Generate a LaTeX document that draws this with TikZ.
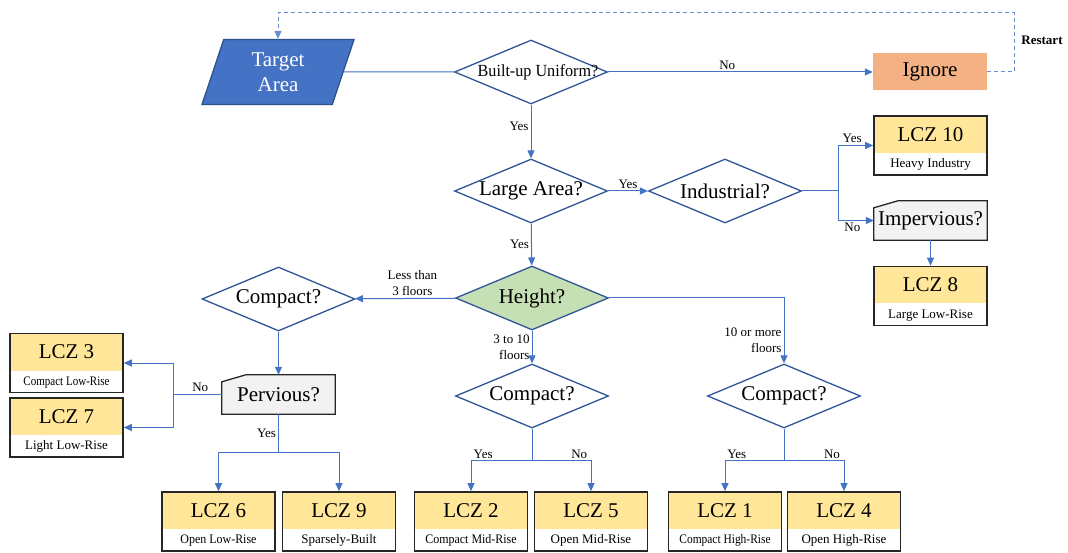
\documentclass[tikz,border=0pt]{standalone}
\usepackage{fontspec}
\setmainfont{Liberation Serif}
\usepackage{graphicx}
\usetikzlibrary{
  arrows.meta,
  shapes.geometric,
  backgrounds
}
\definecolor{flowblue}{HTML}{4472C4}
\definecolor{edgeblue}{HTML}{2F5597}
\definecolor{targetedge}{HTML}{2F528F}
\definecolor{ignorefill}{HTML}{F4B183}
\definecolor{heightgreen}{HTML}{C5E0B4}
\definecolor{lczyellow}{HTML}{FFE699}
\definecolor{snipgray}{HTML}{F2F2F2}
\definecolor{lczframe}{HTML}{262626}
\tikzset{
  bigtext/.style={font=\fontsize{21}{25}\selectfont},
  decision/.style={
    diamond,
    draw=edgeblue,
    line width=1.3pt,
    fill=white,
    aspect=2.4,
    inner sep=0pt,
    minimum width=153pt,
    minimum height=64pt,
    bigtext
  },
  inputbox/.style={
    trapezium,
    trapezium left angle=64.5,
    trapezium right angle=115.5,
    trapezium stretches body,
    fill=flowblue,
    draw=targetedge,
    line width=1.3pt,
    text=white,
    align=center,
    minimum width=152pt,
    minimum height=65pt,
    bigtext
  },
  ignorebox/.style={
    fill=ignorefill,
    minimum width=114pt,
    minimum height=37pt,
    bigtext
  },
  snipbox/.style={
    inner sep=0pt,
    minimum width=113pt,
    minimum height=39pt,
    bigtext
  },
  snipframe/.style={fill=snipgray, draw=lczframe, line width=1.3pt},
  lczbox/.style={
    draw=lczframe,
    line width=1.6pt,
    fill=white,
    inner sep=0pt,
    minimum width=113pt,
    minimum height=59pt,
    path picture={
      \fill[lczyellow] (path picture bounding box.north west)
        rectangle ([yshift=-37pt]path picture bounding box.north east);
    }
  },
  lcznum/.style={inner sep=0pt, text height=15pt, text depth=0pt, bigtext},
  lcztype/.style={inner sep=0pt, text height=9pt, text depth=3pt,
    font=\fontsize{13}{15}\selectfont},
  answer/.style={inner sep=2pt, font=\fontsize{13}{16}\selectfont},
  flow/.style={draw=flowblue, line width=1pt, -{Triangle[length=8pt,width=7pt]}},
  link/.style={draw=flowblue, line width=1pt},
  restart/.style={flow, draw=flowblue!80, dash pattern=on 4pt off 3pt}
}
% one LCZ class box: name, centre, number, type
\newcommand{\lcz}[4]{%
  \node[lczbox] (#1) at (#2) {};
  \node[lcznum] (#1-num) at ([yshift=-18.5pt]#1.north) {LCZ #3};
  \node[lcztype] (#1-type) at ([yshift=11pt]#1.south) {#4};
}
\begin{document}
\begin{tikzpicture}[x=1pt, y=-1pt]
  \useasboundingbox (0,0) rectangle (1068,553);

  % first checks
  \node[inputbox] (target) at (278,72) {Target\\Area};
  \node[decision, label={[font=\fontsize{17}{20}\selectfont, xshift=7pt]center:\scalebox{0.95}[1]{Built-up Uniform?}}] (uniform) at (531,72) {};
  \node[ignorebox] (ignore) at (930,72) {Ignore};
  \coordinate (loop) at (1014,13);
  \node[answer, font=\fontsize{13}{16}\selectfont\bfseries] (restart-txt) at (1042,40) {Restart};
  \node[decision] (large) at (531,191) {Large Area?};
  \node[decision] (industrial) at (725,191) {Industrial?};

  % industrial branch
  \lcz{lcz10}{930.5,145.5}{10}{Heavy Industry}
  \node[snipbox] (impervious) at (930.5,220.5) {Impervious?};
  \lcz{lcz8}{930.5,296}{8}{Large Low-Rise}

  % height branch
  \node[decision, fill=heightgreen] (height) at (532,298) {Height?};
  \node[decision] (compact-low) at (278.5,299) {Compact?};
  \node[decision] (compact-mid) at (532,396) {Compact?};
  \node[decision] (compact-high) at (784,396) {Compact?};
  \node[snipbox] (pervious) at (278.5,394.5) {Pervious?};

  \lcz{lcz3}{66.5,363}{3}{\scalebox{0.85}[1]{Compact Low-Rise}}
  \lcz{lcz7}{66.5,427.5}{7}{Light Low-Rise}
  \lcz{lcz6}{218.5,521.5}{6}{\scalebox{0.92}[1]{Open Low-Rise}}
  \lcz{lcz9}{339,521.5}{9}{Sparsely-Built}
  \lcz{lcz2}{471,521.5}{2}{\scalebox{0.92}[1]{Compact Mid-Rise}}
  \lcz{lcz5}{591,521.5}{5}{Open Mid-Rise}
  \lcz{lcz1}{725,521.5}{1}{\scalebox{0.88}[1]{Compact High-Rise}}
  \lcz{lcz4}{844,521.5}{4}{Open High-Rise}

  % snipped corners behind the two checks
  \begin{scope}[on background layer]
    \foreach \snip in {impervious, pervious} {
      \filldraw[snipframe] ([yshift=-7pt]\snip.north west) -- ([xshift=24pt]\snip.north west)
        -- (\snip.north east) -- (\snip.south east) -- (\snip.south west) -- cycle;
    }
  \end{scope}

  % connectors
  \draw[link] (target) -- (uniform);
  \draw[flow] (uniform) -- node[answer, above, pos=0.45] {No} (ignore);
  \draw[restart] (ignore.east) -| (loop) -| (target.north);
  \draw[flow] (uniform) -- node[answer, left, pos=0.4] {Yes} (large);
  \draw[flow] (large) -- node[answer, above] {Yes} (industrial);
  \draw[link] (industrial.east) -- ++(36,0) coordinate (ind-fork);
  \draw[flow] (ind-fork) |- node[answer, above, pos=0.7] {Yes} (lcz10.west);
  \draw[flow] (ind-fork) |- node[answer, below, pos=0.7] {No} (impervious.west);
  \draw[flow] (impervious) -- (lcz8);

  \draw[flow] (large) -- node[answer, left] {Yes} (height);
  \draw[flow] (height) -- node[answer, above, align=center, pos=0.43] {Less than\\3 floors} (compact-low);
  \draw[flow] (height) -- node[answer, left, align=right] {3 to 10\\floors} (compact-mid);
  \draw[flow] (height) -| node[answer, left, align=right, pos=0.82] {10 or more\\floors} (compact-high);

  \draw[flow] (compact-low) -- (pervious);
  \draw[link] (pervious.west) -- node[answer, above, pos=0.45] {No} ++(-48,0) coordinate (perv-fork);
  \draw[flow] (perv-fork) |- (lcz3.east);
  \draw[flow] (perv-fork) |- (lcz7.east);
  \draw[link] (pervious.south) -- node[answer, left] {Yes} ++(0,38) coordinate (low-fork);
  \draw[flow] (low-fork) -| (lcz6.north);
  \draw[flow] (low-fork) -| (lcz9.north);

  \draw[link] (compact-mid.south) -- ++(0,32) coordinate (mid-fork);
  \draw[flow] (mid-fork) -| node[answer, above, pos=0.4] {Yes} (lcz2.north);
  \draw[flow] (mid-fork) -| node[answer, above, pos=0.4] {No} (lcz5.north);
  \draw[link] (compact-high.south) -- ++(0,32) coordinate (high-fork);
  \draw[flow] (high-fork) -| node[answer, above, pos=0.4] {Yes} (lcz1.north);
  \draw[flow] (high-fork) -| node[answer, above, pos=0.4] {No} (lcz4.north);
\end{tikzpicture}
\end{document}
